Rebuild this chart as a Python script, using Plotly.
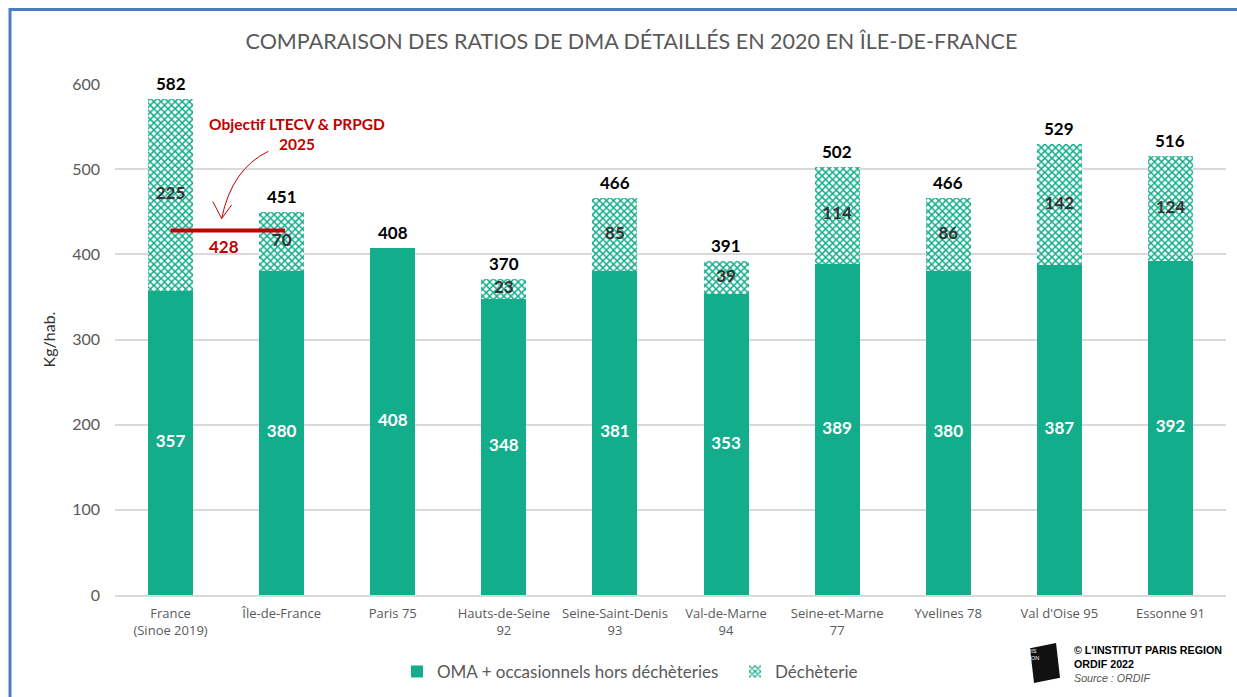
import plotly.graph_objects as go

categories = ["France<br>(Sinoe 2019)", "Île-de-France", "Paris 75", "Hauts-de-Seine<br>92",
              "Seine-Saint-Denis<br>93", "Val-de-Marne<br>94", "Seine-et-Marne<br>77",
              "Yvelines 78", "Val d'Oise 95", "Essonne 91"]
oma = [357, 380, 408, 348, 381, 353, 389, 380, 387, 392]
decheterie = [225, 70, 0, 23, 85, 39, 114, 86, 142, 124]
totals = [582, 451, 408, 370, 466, 391, 502, 466, 529, 516]
objectif = 428

TEAL = "#14AD8C"
GRAY = "#595959"
RED = "#C00000"
FONT = "Lato"

x = list(range(len(categories)))

fig = go.Figure()
fig.add_trace(go.Bar(x=x, y=oma, name="OMA + occasionnels hors déchèteries",
                     marker=dict(color=TEAL, line=dict(width=0)), width=0.405))
fig.add_trace(go.Bar(x=x, y=decheterie, name="Déchèterie", width=0.405,
                     marker=dict(color="white", line=dict(width=0),
                                 pattern=dict(shape="x", fgcolor=TEAL, bgcolor="white",
                                              size=5, solidity=0.5, fillmode="replace"))))

# labels
fig.add_trace(go.Scatter(x=x, y=[o / 2 for o in oma], mode="text", text=[str(o) for o in oma],
                         textfont=dict(color="white", size=17, family=FONT, weight="bold"),
                         showlegend=False, hoverinfo="skip"))
dx = [i for i, d in zip(x, decheterie) if d > 0]
dy = [o + d / 2 for o, d in zip(oma, decheterie) if d > 0]
dt = [str(d) for d in decheterie if d > 0]
fig.add_trace(go.Scatter(x=dx, y=dy, mode="text", text=dt,
                         textfont=dict(color="#333333", size=17, family=FONT, weight="bold"),
                         showlegend=False, hoverinfo="skip"))
for i, (o, d, t) in enumerate(zip(oma, decheterie, totals)):
    fig.add_annotation(x=i, y=o + d, text=str(t), showarrow=False, yanchor="bottom", yshift=3,
                       font=dict(color="black", size=17, family=FONT, weight="bold"))

# objective line
fig.add_shape(type="line", x0=0, x1=1.03, y0=objectif, y1=objectif, xref="x", yref="y",
              line=dict(color=RED, width=4))
fig.add_annotation(x=0.48, y=objectif, yshift=-16, text=str(objectif), showarrow=False,
                   font=dict(color=RED, size=17, family=FONT, weight="bold"))
fig.add_annotation(x=1.14, y=541, text="Objectif LTECV & PRPGD<br>2025", showarrow=False,
                   xanchor="center", align="center",
                   font=dict(color=RED, size=15.5, family=FONT, weight="bold"))
# curved arrow
fig.add_shape(type="path", xref="x", yref="y",
              path="M 0.88 521 Q 0.55 500 0.46 442",
              line=dict(color=RED, width=1))
fig.add_shape(type="path", xref="x", yref="y",
              path="M 0.38 462 L 0.46 442 L 0.55 458",
              line=dict(color=RED, width=1))

# logo
fig.add_shape(type="path", xref="paper", yref="paper",
              path="M 0.8236 -0.104 L 0.8470 -0.094 L 0.8506 -0.162 L 0.8272 -0.172 Z",
              fillcolor="#111111", line=dict(width=0), layer="above")
fig.add_annotation(xref="paper", yref="paper", x=0.837, y=-0.134, text="L'INSTITUT<br>PARIS<br>REGION",
                   showarrow=False, font=dict(color="white", size=5.5, family="Liberation Sans"))
fig.add_annotation(xref="paper", yref="paper", x=0.861, y=-0.092, xanchor="left", yanchor="top",
                   align="left",
                   text="<b>© L'INSTITUT PARIS REGION</b><br><b>ORDIF 2022</b><br><i><span style='color:#555'>Source : ORDIF</span></i>",
                   showarrow=False, font=dict(color="black", size=10.7, family="Liberation Sans"))

# blue border
fig.add_shape(type="path", xref="paper", yref="paper",
              path="M 1.02 1.146 L -0.0945 1.146 L -0.0945 -0.2",
              line=dict(color="#4A7EC2", width=3))

fig.update_layout(
    width=1237, height=697,
    margin=dict(l=115, r=11, t=84, b=102),
    paper_bgcolor="white", plot_bgcolor="white",
    barmode="stack", bargap=0.6,
    title=dict(text="COMPARAISON DES RATIOS DE DMA DÉTAILLÉS EN 2020 EN ÎLE-DE-FRANCE",
               x=0.5105, xanchor="center", y=0.94, yanchor="middle",
               font=dict(size=21.5, color=GRAY, family=FONT)),
    font=dict(family=FONT, color=GRAY),
    xaxis=dict(tickmode="array", tickvals=x, ticktext=categories, range=[-0.5, 9.5],
               showgrid=False, showline=True, linecolor="#D9D9D9", linewidth=2,
               ticks="", ticklabelstandoff=5,
               tickfont=dict(size=13, color=GRAY, family="Open Sans"), fixedrange=True),
    yaxis=dict(range=[0, 600], dtick=100, showgrid=True, gridcolor="#D9D9D9", gridwidth=1.5,
               zeroline=False, ticks="", tickfont=dict(size=16, color=GRAY), ticklabelstandoff=14,
               title=dict(text="Kg/hab.", font=dict(size=16, color="#333333"), standoff=12)),
    legend=dict(orientation="h", x=0.2538, xanchor="left", yref="container",
                y=0.036, yanchor="middle", entrywidth=293, entrywidthmode="pixels",
                bgcolor="rgba(0,0,0,0)",
                font=dict(size=17, color=GRAY), traceorder="normal", itemwidth=30),
)

fig.write_html("out.html", config={"displayModeBar": False},
               post_script="document.body.style.margin='0';")
